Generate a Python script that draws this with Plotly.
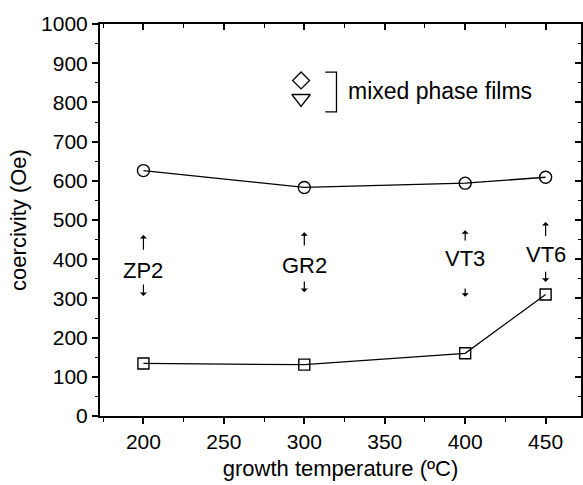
import plotly.graph_objects as go

# ---- data ----
temps = [200, 300, 400, 450]
coerc_circles = [626, 583, 594, 609]
coerc_squares = [134, 131, 160, 310]

sample_labels = ["ZP2", "GR2", "VT3", "VT6"]
label_y = [372, 383, 403, 411]
up_arrow_tail = [420, 431, 444, 455]
up_arrow_tip = [462, 469, 474, 495]
down_arrow_tail = [339, 347, 329, 372]
down_arrow_tip = [306, 316, 304, 342]

legend_text = "mixed phase films"
legend_marker_x = 298
legend_diamond_y = 856
legend_triangle_y = 810
bracket_x = [313, 320]
bracket_y = [776, 877]
legend_text_pos = (326, 828)

x_range = [173, 472]
y_range = [0, 1000]

FONT = "Liberation Sans, Arial, Helvetica, sans-serif"
fig = go.Figure()

fig.add_trace(go.Scatter(x=temps, y=coerc_circles, mode="lines+markers",
                         line=dict(color="black", width=1.3),
                         marker=dict(symbol="circle-open", size=12, color="black",
                                     line=dict(width=1.4)),
                         showlegend=False))
fig.add_trace(go.Scatter(x=temps, y=coerc_squares, mode="lines+markers",
                         line=dict(color="black", width=1.3),
                         marker=dict(symbol="square-open", size=11, color="black",
                                     line=dict(width=1.4)),
                         showlegend=False))
# legend markers
fig.add_trace(go.Scatter(x=[legend_marker_x], y=[legend_diamond_y], mode="markers",
                         marker=dict(symbol="diamond-open", size=13, color="black",
                                     line=dict(width=1.3)), showlegend=False))
fig.add_trace(go.Scatter(x=[legend_marker_x], y=[legend_triangle_y], mode="markers",
                         marker=dict(symbol="triangle-down-open", size=16, color="black",
                                     line=dict(width=1.3)), showlegend=False))
# invisible trace for mirrored axes
fig.add_trace(go.Scatter(x=x_range, y=y_range, xaxis="x2", yaxis="y2", mode="markers",
                         marker=dict(opacity=0), showlegend=False, hoverinfo="skip"))

# bracket
fig.add_shape(type="path",
              path=f"M {bracket_x[0]} {bracket_y[1]} L {bracket_x[1]} {bracket_y[1]} "
                   f"L {bracket_x[1]} {bracket_y[0]} L {bracket_x[0]} {bracket_y[0]}",
              xref="x", yref="y", line=dict(color="black", width=1.3))

fig.add_annotation(x=legend_text_pos[0], y=legend_text_pos[1], text=legend_text,
                   showarrow=False, xanchor="left", yanchor="middle",
                   font=dict(size=23, color="black", family=FONT))

for t, lab, ly, ut, uh, dt, dh in zip(temps, sample_labels, label_y, up_arrow_tail,
                                       up_arrow_tip, down_arrow_tail, down_arrow_tip):
    fig.add_annotation(x=t, y=ly, text=lab, showarrow=False, xanchor="center",
                       yanchor="middle", font=dict(size=22, color="black", family=FONT))
    fig.add_annotation(x=t, y=uh, ax=t, ay=ut, axref="x", ayref="y", text="",
                       showarrow=True, arrowhead=1, arrowsize=1, arrowwidth=1.2,
                       arrowcolor="black")
    fig.add_annotation(x=t, y=dh, ax=t, ay=dt, axref="x", ayref="y", text="",
                       showarrow=True, arrowhead=1, arrowsize=1, arrowwidth=1.2,
                       arrowcolor="black")

fig.update_layout(
    width=583, height=485,
    margin=dict(l=100, r=2, t=24, b=69),
    paper_bgcolor="white", plot_bgcolor="white",
    font=dict(family=FONT, size=20, color="black"),
    xaxis=dict(range=x_range, tickvals=[200, 250, 300, 350, 400, 450],
               ticks="outside", ticklen=6, tickwidth=1.5, tickcolor="black",
               minor=dict(dtick=25, tick0=0, ticks="outside", ticklen=4, tickwidth=1.2,
                          tickcolor="black"),
               showline=True, linecolor="black", linewidth=2, showgrid=False,
               zeroline=False,
               title=dict(text="growth temperature (ºC)", font=dict(size=22), standoff=8),
               tickfont=dict(size=21)),
    yaxis=dict(range=y_range, dtick=100, tick0=0,
               ticks="outside", ticklen=6, tickwidth=1.5, tickcolor="black",
               minor=dict(dtick=50, tick0=0, ticks="outside", ticklen=3, tickwidth=1.2,
                          tickcolor="black"),
               showline=True, linecolor="black", linewidth=2, showgrid=False,
               zeroline=False,
               title=dict(text="coercivity (Oe)", font=dict(size=22), standoff=8),
               tickfont=dict(size=21)),
    xaxis2=dict(range=x_range, overlaying="x", side="top", anchor="y2",
                tickvals=[200, 250, 300, 350, 400, 450], ticks="inside", ticklen=6,
                tickwidth=1.5, tickcolor="black", showticklabels=False,
                minor=dict(dtick=25, tick0=0, ticks="inside", ticklen=4, tickwidth=1.2,
                           tickcolor="black"),
                showline=True, linecolor="black", linewidth=2, showgrid=False,
                zeroline=False),
    yaxis2=dict(range=y_range, overlaying="y", side="right", anchor="x2",
                dtick=100, tick0=0, ticks="inside", ticklen=6, tickwidth=1.5,
                tickcolor="black", showticklabels=False,
                minor=dict(dtick=50, tick0=0, ticks="inside", ticklen=3, tickwidth=1.2,
                           tickcolor="black"),
                showline=True, linecolor="black", linewidth=1.5, showgrid=False,
                zeroline=False),
)

fig.write_html("out.html")
